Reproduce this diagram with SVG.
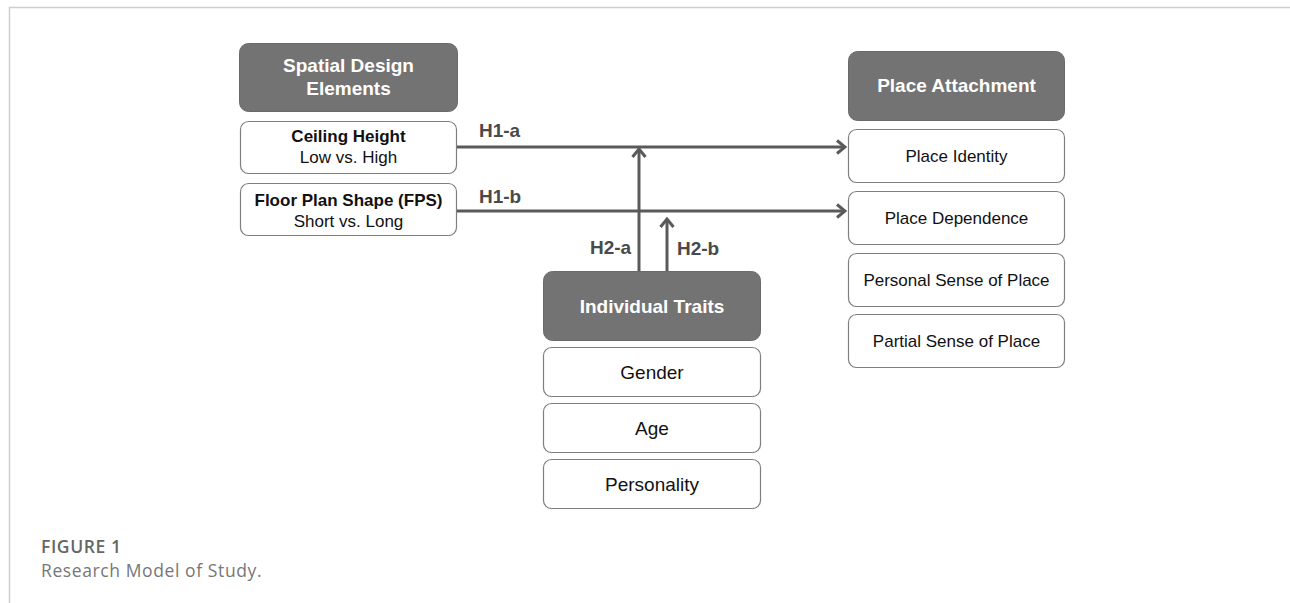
<svg xmlns="http://www.w3.org/2000/svg" width="1290" height="603" viewBox="0 0 1290 603">
<defs>
<style>
.hdr{fill:#737373;stroke:#6a6a6a;stroke-width:1}
.box{fill:#fff;stroke:#7f7f7f;stroke-width:1.2}
.ht{font-family:"Liberation Sans",Arial,sans-serif;font-size:19px;font-weight:bold;fill:#fff;text-anchor:middle}
.bt{font-family:"Liberation Sans",Arial,sans-serif;font-size:17px;fill:#111;text-anchor:middle}
.bb{font-family:"Liberation Sans",Arial,sans-serif;font-size:17px;font-weight:bold;fill:#111;text-anchor:middle}
.bl{font-family:"Liberation Sans",Arial,sans-serif;font-size:19px;fill:#111;text-anchor:middle}
.lbl{font-family:"Liberation Sans",Arial,sans-serif;font-size:19px;font-weight:bold;fill:#4a4a4a}
.ln{stroke:#5a5a5a;stroke-width:3;fill:none}
.cap{font-family:"Open Sans","Noto Sans",sans-serif;font-size:17.5px;letter-spacing:0.6px}
</style>
<marker id="arr" markerWidth="12" markerHeight="16" refX="10" refY="8" orient="auto" markerUnits="userSpaceOnUse">
<path d="M2,1.5 L10,8 L2,14.5" fill="none" stroke="#5a5a5a" stroke-width="3"/>
</marker>
</defs>
<rect width="1290" height="603" fill="#fff"/>
<path d="M9.5,603 V7.5 H1290" fill="none" stroke="#cfcfcf" stroke-width="1.5"/>

<g id="spatial-header"><rect class="hdr" x="239.5" y="43.5" width="218" height="68" rx="9"/><text class="ht" x="348.5" y="72">Spatial Design</text><text class="ht" x="348.5" y="95">Elements</text></g>
<g id="ceiling"><rect class="box" x="240.5" y="121.5" width="216" height="52" rx="8"/><text class="bb" x="348.5" y="142">Ceiling Height</text><text class="bt" x="348.5" y="163">Low vs. High</text></g>
<g id="fps"><rect class="box" x="240.5" y="183.5" width="216" height="52" rx="8"/><text class="bb" x="348.5" y="206">Floor Plan Shape (FPS)</text><text class="bt" x="348.5" y="227">Short vs. Long</text></g>

<g id="pa-header"><rect class="hdr" x="848.5" y="51.5" width="216" height="69" rx="9"/><text class="ht" x="956.5" y="92">Place Attachment</text></g>
<g id="identity"><rect class="box" x="848.5" y="129.5" width="216" height="53" rx="8"/><text class="bt" x="956.5" y="162">Place Identity</text></g>
<g id="dependence"><rect class="box" x="848.5" y="191.5" width="216" height="53" rx="8"/><text class="bt" x="956.5" y="224">Place Dependence</text></g>
<g id="personal"><rect class="box" x="848.5" y="253.5" width="216" height="53" rx="8"/><text class="bt" x="956.5" y="286">Personal Sense of Place</text></g>
<g id="partial"><rect class="box" x="848.5" y="314.5" width="216" height="53" rx="8"/><text class="bt" x="956.5" y="347">Partial Sense of Place</text></g>

<g id="traits-header"><rect class="hdr" x="543.5" y="271.5" width="217" height="69" rx="9"/><text class="ht" x="652" y="313">Individual Traits</text></g>
<g id="gender"><rect class="box" x="543.5" y="347.5" width="217" height="49" rx="8"/><text class="bl" x="652" y="379">Gender</text></g>
<g id="age"><rect class="box" x="543.5" y="403.5" width="217" height="49" rx="8"/><text class="bl" x="652" y="435">Age</text></g>
<g id="personality"><rect class="box" x="543.5" y="459.5" width="217" height="49" rx="8"/><text class="bl" x="652" y="491">Personality</text></g>

<g id="connectors">
<line class="ln" x1="457" y1="147" x2="845" y2="147" marker-end="url(#arr)"/>
<line class="ln" x1="457" y1="211" x2="845" y2="211" marker-end="url(#arr)"/>
<line class="ln" x1="639" y1="271" x2="639" y2="149" marker-end="url(#arr)"/>
<line class="ln" x1="667" y1="271" x2="667" y2="219" marker-end="url(#arr)"/>
<text class="lbl" x="479" y="137">H1-a</text>
<text class="lbl" x="479" y="203">H1-b</text>
<text class="lbl" x="590" y="254">H2-a</text>
<text class="lbl" x="677" y="255">H2-b</text>
</g>

<g id="caption">
<text class="cap" x="41" y="553" font-weight="600" fill="#666">FIGURE 1</text>
<text class="cap" x="41" y="577" fill="#777">Research Model of Study.</text>
</g>
</svg>
